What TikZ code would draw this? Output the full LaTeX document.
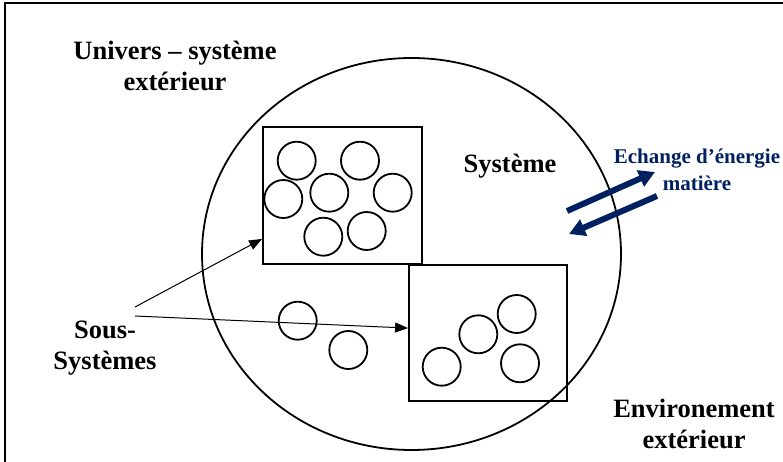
\documentclass[tikz,border=0pt]{standalone}
\usepackage{fontspec}
\setmainfont{Liberation Serif}
\usetikzlibrary{arrows.meta}
\definecolor{bleunuit}{HTML}{002060}
\begin{document}
\begin{tikzpicture}[x=1pt, y=-1pt,
  titre/.style={font=\bfseries\fontsize{26.5}{31}\selectfont, align=center, inner sep=0pt},
  echange/.style={font=\bfseries\fontsize{21}{27}\selectfont, text=bleunuit, align=center, inner sep=0pt},
  sousbox/.style={draw, line width=1.8pt, inner sep=0pt},
  bulle/.style={circle, draw, line width=1.8pt, minimum size=38pt, inner sep=0pt},
  fleche/.style={line width=1pt, -{Triangle[length=13pt,width=10pt]}},
  flux/.style={bleunuit, line width=6pt, -{Triangle[length=16pt,width=17pt]}}]
  \clip (0,0) rectangle (783,462);
  \draw[line width=2.5pt] (5,3) rectangle (800,480);
  % systeme
  \draw[line width=1.8pt] (411.5,254) ellipse [x radius=209.5pt, y radius=196pt];
  \node[sousbox, minimum width=159pt, minimum height=137pt] (boxA) at (342.5,195.5) {};
  \node[sousbox, minimum width=158pt, minimum height=136pt] (boxB) at (488,333) {};
  % particules
  \foreach \cx/\cy [count=\i] in {296.7/160.7, 360/160.7, 283.3/199, 329.3/192.7, 392.7/192.7,
      323.3/236.7, 366.7/231, 516.7/314, 478.3/334.3, 441.7/366.7, 520/363.3,
      297.7/320.7, 348.3/350}
    \node[bulle] (p\i) at (\cx,\cy) {};
  % textes
  \node[titre] (univers) at (175,66) {Univers – système\\extérieur};
  \node[titre] (systeme) at (510,166) {Système};
  \node[titre] (sous) at (105,348) {Sous-\\Systèmes};
  \node[titre] (environ) at (694,424) {Environement\\extérieur};
  \node[echange] (echange) at (697,170) {Echange d’énergie\\matière};
  % fleches
  \coordinate (depA) at (135,307);
  \coordinate (depB) at (135,316);
  \draw[fleche] (depA) -- ([yshift=26pt]boxA.south west);
  \draw[fleche] (depB) -- ([yshift=-64pt]boxB.north west);
  \coordinate (entreeA) at (567,211);
  \coordinate (entreeB) at (655,172);
  \coordinate (sortieA) at (657,196);
  \coordinate (sortieB) at (569,234);
  \draw[flux] (entreeA) -- (entreeB);
  \draw[flux] (sortieA) -- (sortieB);
\end{tikzpicture}
\end{document}
